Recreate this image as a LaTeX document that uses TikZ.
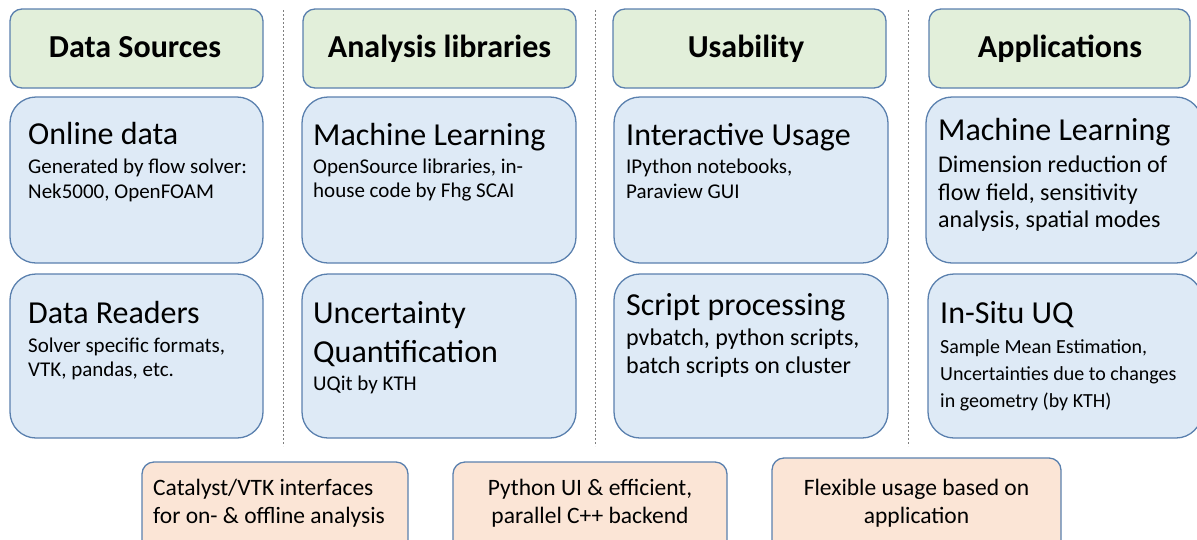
\documentclass[tikz,border=0pt]{standalone}
\usepackage{fontspec}
\setmainfont{Carlito}
\definecolor{edge}{HTML}{5A80AE}
\definecolor{hdrfill}{HTML}{E2EFDA}
\definecolor{bluefill}{HTML}{DEEAF6}
\definecolor{orfill}{HTML}{FBE5D6}
\definecolor{sepgray}{HTML}{7F7F7F}
\tikzset{
  hdrbox/.style={draw=edge, fill=hdrfill, rounded corners=12pt, line width=1.3pt, inner sep=0pt},
  bluebox/.style={draw=edge, fill=bluefill, rounded corners=26pt, line width=1.3pt, inner sep=0pt},
  orbox/.style={draw=edge, fill=orfill, rounded corners=12pt, line width=1.3pt, inner sep=0pt},
  hdrtxt/.style={anchor=base, inner sep=0pt, font=\fontsize{32}{38}\selectfont\bfseries},
  ttl/.style={anchor=base west, inner sep=0pt, font=\fontsize{32}{38}\selectfont},
  bsm/.style={anchor=base west, inner sep=0pt, font=\fontsize{21}{25}\selectfont},
  bxs/.style={anchor=base west, inner sep=0pt, font=\fontsize{20}{24}\selectfont},
  blg/.style={anchor=base west, inner sep=0pt, font=\fontsize{24}{28}\selectfont},
  botl/.style={anchor=base west, inner sep=0pt, font=\fontsize{23.5}{28}\selectfont},
  botc/.style={anchor=base, inner sep=0pt, font=\fontsize{23.5}{28}\selectfont},
  sepline/.style={draw=sepgray, line width=1pt, dash pattern=on 2pt off 2pt}
}
\begin{document}
\begin{tikzpicture}[x=1pt,y=-1pt]
\useasboundingbox (0,0) rectangle (1197,539);
\clip (0,0) rectangle (1197,539);
% separators
\coordinate (s1t) at (283,10); \coordinate (s1b) at (283,446);
\coordinate (s2t) at (595,10); \coordinate (s2b) at (595,446);
\coordinate (s3t) at (908,10); \coordinate (s3b) at (908,446);
\draw[sepline] (s1t) -- (s1b);
\draw[sepline] (s2t) -- (s2b);
\draw[sepline] (s3t) -- (s3b);
% headers
\node[hdrbox, minimum width=253pt, minimum height=79pt] (h1) at (136.5,48.5) {};
\node[hdrbox, minimum width=273pt, minimum height=79pt] (h2) at (439.5,48.5) {};
\node[hdrbox, minimum width=273pt, minimum height=79pt] (h3) at (749.5,48.5) {};
\node[hdrbox, minimum width=261pt, minimum height=79pt] (h4) at (1059.5,48.5) {};
\node[hdrtxt] (h1t) at (135,57) {Data Sources};
\node[hdrtxt] (h2t) at (439.5,57) {Analysis libraries};
\node[hdrtxt] (h3t) at (746,57) {Usability};
\node[hdrtxt] (h4t) at (1060,57) {Applications};
% blue boxes
\node[bluebox, minimum width=253pt, minimum height=166pt] (b11) at (136.5,180) {};
\node[bluebox, minimum width=253pt, minimum height=164pt] (b12) at (136.5,356) {};
\node[bluebox, minimum width=274pt, minimum height=166pt] (b21) at (439,180) {};
\node[bluebox, minimum width=274pt, minimum height=164pt] (b22) at (439,356) {};
\node[bluebox, minimum width=274pt, minimum height=166pt] (b31) at (751,180) {};
\node[bluebox, minimum width=274pt, minimum height=164pt] (b32) at (751,356) {};
\node[bluebox, minimum width=276pt, minimum height=166pt] (b41) at (1064,180) {};
\node[bluebox, minimum width=274pt, minimum height=164pt] (b42) at (1065,356) {};
% col 1
\node[ttl] (t11) at (28,144) {Online data};
\node[bsm] (t11a) at (28,173) {Generated by flow solver:};
\node[bsm] (t11b) at (28,198) {Nek5000, OpenFOAM};
\node[ttl] (t12) at (28,323) {Data Readers};
\node[bsm] (t12a) at (28,352) {Solver specific formats,};
\node[bsm] (t12b) at (28,376) {VTK, pandas, etc.};
% col 2
\node[ttl] (t21) at (313,145) {Machine Learning};
\node[bsm] (t21a) at (313,173) {OpenSource libraries, in-};
\node[bsm] (t21b) at (313,197) {house code by Fhg SCAI};
\node[ttl] (t22) at (313,323) {Uncertainty};
\node[ttl] (t22b) at (313,362) {Quantification};
\node[bsm] (t22c) at (313,390) {UQit by KTH};
% col 3
\node[ttl] (t31) at (626,145) {Interactive Usage};
\node[bsm] (t31a) at (626,173) {IPython notebooks,};
\node[bsm] (t31b) at (626,198) {Paraview GUI};
\node[ttl] (t32) at (626,315) {Script processing};
\node[blg] (t32a) at (626,345) {pvbatch, python scripts,};
\node[blg] (t32b) at (626,373) {batch scripts on cluster};
% col 4
\node[ttl] (t41) at (938,140) {Machine Learning};
\node[blg] (t41a) at (938,172) {Dimension reduction of};
\node[blg] (t41b) at (938,200) {flow field, sensitivity};
\node[blg] (t41c) at (938,227) {analysis, spatial modes};
\node[ttl] (t42) at (940,323) {In-Situ UQ};
\node[bxs] (t42a) at (940,353) {Sample Mean Estimation,};
\node[bxs] (t42b) at (940,380) {Uncertainties due to changes};
\node[bxs] (t42c) at (940,407) {in geometry (by KTH)};
% bottom boxes
\node[orbox, minimum width=266pt, minimum height=100pt] (o1) at (275,512) {};
\node[orbox, minimum width=274pt, minimum height=100pt] (o2) at (590,512) {};
\node[orbox, minimum width=289pt, minimum height=104pt] (o3) at (916.5,510) {};
\node[botl] (o1a) at (153,495) {Catalyst/VTK interfaces};
\node[botl] (o1b) at (153,523) {for on- \& offline analysis};
\node[botc] (o2a) at (590,495) {Python UI \& efficient,};
\node[botc] (o2b) at (590,523) {parallel C++ backend};
\node[botc] (o3a) at (916.5,495) {Flexible usage based on};
\node[botc] (o3b) at (916.5,523) {application};
\end{tikzpicture}
\end{document}
